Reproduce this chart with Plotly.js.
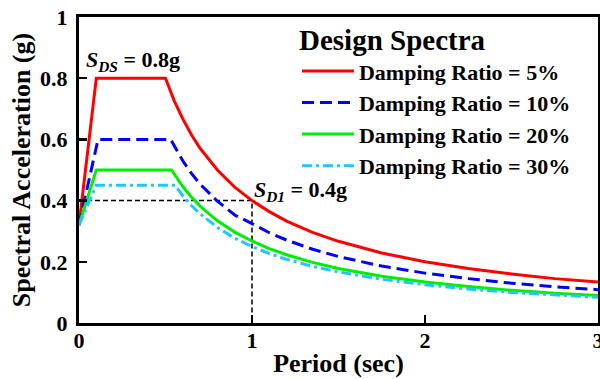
<!DOCTYPE html>
<html>
<head>
<meta charset="utf-8">
<script src="https://cdn.plot.ly/plotly-3.0.1.min.js"></script>
<style>html,body{margin:0;padding:0;background:#fff;}#chart{width:600px;height:379px;}</style>
</head>
<body>
<div id="chart"></div>
<script>
// Period (sec) and spectral acceleration (g)
const periodRed   = [0, 0.1, 0.5, 0.55, 0.6, 0.65, 0.7, 0.8, 0.9, 1.0, 1.1, 1.2, 1.35, 1.5, 1.75, 2.0, 2.25, 2.5, 2.75, 3.0];
const saRed       = [0.32, 0.8, 0.8, 0.727, 0.667, 0.615, 0.571, 0.5, 0.444, 0.4, 0.364, 0.333, 0.296, 0.267, 0.229, 0.2, 0.178, 0.16, 0.145, 0.134];

const periodBlue  = [0, 0.11, 0.53, 0.6, 0.65, 0.7, 0.8, 0.9, 1.0, 1.1, 1.2, 1.35, 1.5, 1.75, 2.0, 2.25, 2.5, 2.75, 3.0];
const saBlue      = [0.32, 0.6, 0.6, 0.53, 0.489, 0.454, 0.398, 0.353, 0.325, 0.295, 0.271, 0.241, 0.217, 0.186, 0.163, 0.145, 0.13, 0.118, 0.109];

const periodGreen = [0, 0.1, 0.535, 0.6, 0.65, 0.7, 0.8, 0.9, 1.0, 1.1, 1.2, 1.35, 1.5, 1.75, 2.0, 2.25, 2.5, 2.75, 3.0];
const saGreen     = [0.32, 0.5, 0.5, 0.446, 0.412, 0.382, 0.334, 0.297, 0.268, 0.243, 0.223, 0.198, 0.178, 0.153, 0.134, 0.119, 0.107, 0.097, 0.09];

const periodCyan  = [0, 0.1, 0.555, 0.6, 0.65, 0.7, 0.8, 0.9, 1.0, 1.1, 1.2, 1.35, 1.5, 1.75, 2.0, 2.25, 2.5, 2.75, 3.0];
const saCyan      = [0.32, 0.45, 0.45, 0.416, 0.384, 0.357, 0.312, 0.277, 0.25, 0.227, 0.208, 0.185, 0.167, 0.143, 0.125, 0.111, 0.1, 0.091, 0.084];

const refX = [0, 1, 1];
const refY = [0.4, 0.4, 0];

const seriesNames = ["Damping Ratio = 5%", "Damping Ratio = 10%", "Damping Ratio = 20%", "Damping Ratio = 30%"];
const xTicks = [0, 1, 2, 3];
const yTicks = [0, 0.2, 0.4, 0.6, 0.8, 1];

const FONT = "Liberation Serif";

const traces = [
  {x: refX, y: refY, mode: "lines", showlegend: false, hoverinfo: "skip",
   line: {color: "#000", width: 1.5, dash: "5px,3px"}},
  {x: periodRed, y: saRed, mode: "lines", name: "<b>" + seriesNames[0] + "</b>", legendgroup: "a",
   line: {color: "#ff0000", width: 3}},
  {x: periodBlue, y: saBlue, mode: "lines", name: "<b>" + seriesNames[1] + "</b>", legendgroup: "b",
   line: {color: "#0000ff", width: 3, dash: "12px,6px"}},
  {x: periodGreen, y: saGreen, mode: "lines", name: "<b>" + seriesNames[2] + "</b>", legendgroup: "c",
   line: {color: "#00ee00", width: 3}},
  {x: periodCyan, y: saCyan, mode: "lines", name: "<b>" + seriesNames[3] + "</b>", legendgroup: "d",
   line: {color: "#1ec8ff", width: 3, dash: "10px,4px,3px,4px"}}
];

const layout = {
  width: 600, height: 379,
  margin: {l: 79, r: 2, t: 17, b: 56},
  paper_bgcolor: "#fff", plot_bgcolor: "#fff",
  font: {family: FONT, color: "#000"},
  showlegend: true,
  legend: {
    x: 0.42, y: 1.015, xanchor: "left", yanchor: "top",
    bgcolor: "rgba(0,0,0,0)",
    font: {family: FONT, size: 22, color: "#000"},
    title: {text: "<b>Design Spectra</b>", font: {family: FONT, size: 29, color: "#000"}},
    itemwidth: 52,
    tracegroupgap: 0
  },
  xaxis: {
    range: [0, 3], tickvals: xTicks, ticktext: xTicks.map(v => "<b>" + v + "</b>"),
    showgrid: false, zeroline: false, ticklabeloverflow: "allow", ticklabelstandoff: -4,
    showline: true, linecolor: "#000", linewidth: 3, mirror: true,
    ticks: "inside", ticklen: 8, tickwidth: 2.5, tickcolor: "#000",
    tickfont: {family: FONT, size: 22},
    title: {text: "<b>Period (sec)</b>", font: {family: FONT, size: 26}, standoff: 2}
  },
  yaxis: {
    range: [0, 1], tickvals: yTicks, ticktext: yTicks.map(v => "<b>" + v + "</b>"),
    showgrid: false, zeroline: false, ticklabeloverflow: "allow", ticklabelstandoff: 4,
    showline: true, linecolor: "#000", linewidth: 3, mirror: true,
    ticks: "inside", ticklen: 8, tickwidth: 2.5, tickcolor: "#000",
    tickfont: {family: FONT, size: 22},
    title: {text: "<b>Spectral Acceleration (g)</b>", font: {family: FONT, size: 26}, standoff: 2}
  },
  annotations: [
    {x: 0.03, y: 0.803, xref: "x", yref: "y", xanchor: "left", yanchor: "bottom", showarrow: false,
     text: "<b><i>S</i><sub><i>DS</i></sub> = 0.8g</b>", font: {family: FONT, size: 22, color: "#000"}},
    {x: 1.0, y: 0.378, xref: "x", yref: "y", xanchor: "left", yanchor: "bottom", showarrow: false,
     text: "<b><i>S</i><sub><i>D1</i></sub> = 0.4g</b>", font: {family: FONT, size: 22, color: "#000"}}
  ]
};

Plotly.newPlot("chart", traces, layout, {displayModeBar: false, staticPlot: true});
</script>
</body>
</html>
